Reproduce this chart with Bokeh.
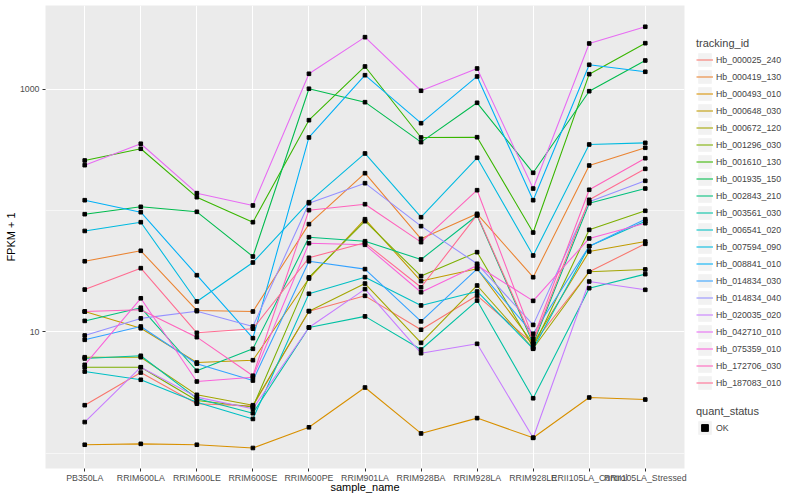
from bokeh.plotting import figure
from bokeh.layouts import row
from bokeh.models import FactorRange, Range1d, FixedTicker, Legend, LegendItem
from bokeh.embed import file_html
from bokeh.resources import INLINE

samples = ["PB350LA", "RRIM600LA", "RRIM600LE", "RRIM600SE", "RRIM600PE", "RRIM901LA",
           "RRIM928BA", "RRIM928LA", "RRIM928LE", "RRII105LA_Control", "RRII105LA_Stressed"]

tracking_ids = ["Hb_000025_240", "Hb_000419_130", "Hb_000493_010", "Hb_000648_030", "Hb_000672_120",
                "Hb_001296_030", "Hb_001610_130", "Hb_001935_150", "Hb_002843_210", "Hb_003561_030",
                "Hb_006541_020", "Hb_007594_090", "Hb_008841_010", "Hb_014834_030", "Hb_014834_040",
                "Hb_020035_020", "Hb_042710_010", "Hb_075359_010", "Hb_172706_030", "Hb_187083_010"]

colors = ["#F8766D", "#EA8331", "#D89000", "#C09B00", "#A3A500", "#7CAE00", "#39B600", "#00BB4E",
          "#00BF7D", "#00C1A3", "#00BFC4", "#00BAE0", "#00B0F6", "#35A2FF", "#9590FF", "#C77CFF",
          "#E76BF3", "#FA62DB", "#FF62BC", "#FF6C91"]

# FPKM + 1 per sample (order of `samples`)
Hb_000025_240 = [2.48, 4.61, 2.55, 2.44, 14.8, 19.8, 10.4, 19.9, 8.0, 31.3, 53.2]
Hb_000419_130 = [38.2, 46.6, 15.0, 14.7, 77.3, 203.5, 58.5, 94.1, 28.2, 235.5, 329.7]
Hb_000493_010 = [1.17, 1.19, 1.17, 1.10, 1.63, 3.47, 1.45, 1.94, 1.335, 2.87, 2.76]
Hb_000648_030 = [14.7, 10.7, 5.58, 5.83, 27.5, 84.9, 26.2, 33.1, 8.0, 46.0, 55.6]
Hb_000672_120 = [6.17, 6.17, 3.02, 2.48, 14.8, 25.0, 8.11, 24.1, 7.28, 31.3, 32.7]
Hb_001296_030 = [5.10, 5.10, 2.71, 2.40, 28.1, 81.8, 28.8, 45.4, 7.46, 69.4, 99.6]
Hb_001610_130 = [259, 323.6, 129, 80.2, 557, 1545, 401, 403, 65.9, 1335, 2405]
Hb_001935_150 = [93.4, 107.4, 97.7, 41.8, 1012, 784, 367, 775, 205, 966, 1731]
Hb_002843_210 = [12.3, 15.8, 4.77, 7.24, 60.3, 55.9, 39.5, 91.1, 7.96, 115, 152]
Hb_003561_030 = [6.02, 6.34, 2.82, 2.13, 10.85, 13.4, 7.14, 18.1, 2.83, 22.9, 29.9]
Hb_006541_020 = [4.70, 4.02, 2.62, 1.91, 20.6, 28.2, 16.5, 21.5, 7.24, 50.8, 81.8]
Hb_007594_090 = [67.9, 80.2, 17.8, 37.3, 117.3, 296, 88.2, 272.7, 42.6, 351, 362]
Hb_008841_010 = [121.8, 97.0, 29.3, 8.86, 401, 1309, 526, 1278, 121.8, 1596, 1397]
Hb_014834_030 = [8.59, 11.06, 5.45, 3.96, 38.2, 32.9, 12.2, 33.1, 9.63, 50.8, 84.9]
Hb_014834_040 = [9.32, 12.9, 14.8, 11.06, 115, 168.3, 74.4, 36.4, 11.4, 118.2, 176]
Hb_020035_020 = [1.80, 5.10, 2.89, 2.32, 10.85, 22.5, 6.66, 7.96, 1.335, 26.0, 22.2]
Hb_042710_010 = [237, 356, 139.2, 110.2, 1345, 2696, 974, 1487, 152, 2391, 3285]
Hb_075359_010 = [5.34, 18.9, 3.89, 4.22, 53.8, 52.2, 21.2, 35.2, 18.0, 58.9, 78.7]
Hb_172706_030 = [14.7, 15.2, 9.03, 4.34, 100.8, 112.9, 54.9, 147.3, 8.81, 148.5, 270.5]
Hb_187083_010 = [22.3, 33.5, 9.81, 10.6, 40.8, 54.2, 23.3, 92.3, 8.32, 122.7, 221]

series = [Hb_000025_240, Hb_000419_130, Hb_000493_010, Hb_000648_030, Hb_000672_120,
          Hb_001296_030, Hb_001610_130, Hb_001935_150, Hb_002843_210, Hb_003561_030,
          Hb_006541_020, Hb_007594_090, Hb_008841_010, Hb_014834_030, Hb_014834_040,
          Hb_020035_020, Hb_042710_010, Hb_075359_010, Hb_172706_030, Hb_187083_010]

y_ticks = [10, 1000]
y_minor = [1, 100]

FONT = "Liberation Sans"

p = figure(width=689, height=496,
           x_range=FactorRange(factors=samples, range_padding=0.2, range_padding_units="absolute"),
           y_axis_type="log", y_range=Range1d(0.745, 4920),
           output_backend="svg", toolbar_location=None,
           min_border_left=45, min_border_right=5, min_border_top=5, min_border_bottom=28)

p.background_fill_color = "#EBEBEB"
p.border_fill_color = "white"
p.outline_line_color = None

ticker = FixedTicker(ticks=y_ticks, minor_ticks=y_minor)
p.yaxis.ticker = ticker
p.ygrid.ticker = ticker
p.yaxis.major_label_overrides = {10: "10", 1000: "1000"}

for ax in (p.xaxis[0], p.yaxis[0]):
    ax.axis_line_color = None
    ax.major_tick_line_color = "#333333"
    ax.major_tick_out = 3
    ax.major_tick_in = 0
    ax.minor_tick_line_color = None
    ax.major_label_text_font_size = "8.8px"
    ax.major_label_text_color = "#4D4D4D"
    ax.major_label_text_font = FONT
    ax.major_label_standoff = 2
    ax.axis_label_text_font_size = "11px"
    ax.axis_label_text_font_style = "normal"
    ax.axis_label_text_font = FONT
    ax.axis_label_text_color = "black"
    ax.axis_label_standoff = 0
p.xaxis.major_label_standoff = 1
p.xaxis.axis_label_standoff = -5
p.xaxis.axis_label = "sample_name"
p.yaxis.axis_label = "FPKM + 1"

p.xgrid.grid_line_color = "white"
p.xgrid.grid_line_width = 1.07
p.ygrid.grid_line_color = "white"
p.ygrid.grid_line_width = 1.07
p.ygrid.minor_grid_line_color = "white"
p.ygrid.minor_grid_line_width = 0.55

for vals, c in zip(series, colors):
    p.line(x=samples, y=vals, line_color=c, line_width=1.07)

all_x = [s for vals in series for s in samples]
all_y = [v for vals in series for v in vals]
p.scatter(x=all_x, y=all_y, marker="square", size=3.6, color="black")

# legend panel (its glyph renderers sit outside its visible range)
lg = figure(width=111, height=496, x_range=(0, 1), y_range=(0, 1), output_backend="svg",
            toolbar_location=None, min_border_left=0, min_border_right=0,
            min_border_top=5, min_border_bottom=28, x_axis_location=None, y_axis_location=None)
lg.outline_line_color = None
lg.xgrid.visible = False
lg.ygrid.visible = False

bg = lg.quad(left=[5], right=[6], top=[6], bottom=[5], fill_color="#F2F2F2", line_color=None)
items = []
for name, c in zip(tracking_ids, colors):
    r = lg.line(x=[5, 6], y=[5, 6], line_color=c, line_width=1.07)
    items.append(LegendItem(label=name, renderers=[bg, r]))

common = dict(title_text_font_size="11px", title_text_font_style="normal", title_text_font=FONT,
              title_standoff=2, label_text_font_size="8.8px", label_text_font=FONT,
              glyph_width=17, glyph_height=17, label_height=17, spacing=0, padding=5, margin=0,
              label_standoff=3, border_line_color=None, background_fill_alpha=0)

leg1 = Legend(items=items, location=(7, 77), title="tracking_id", **common)
lg.add_layout(leg1, "center")

ok_r = lg.scatter(x=[5], y=[5], marker="square", size=4, color="black")
leg2 = Legend(items=[LegendItem(label="OK", renderers=[bg, ok_r])], location=(7, 32),
              title="quant_status", **common)
lg.add_layout(leg2, "center")

layout = row(p, lg)
open("out.html", "w").write(file_html(layout, INLINE))
